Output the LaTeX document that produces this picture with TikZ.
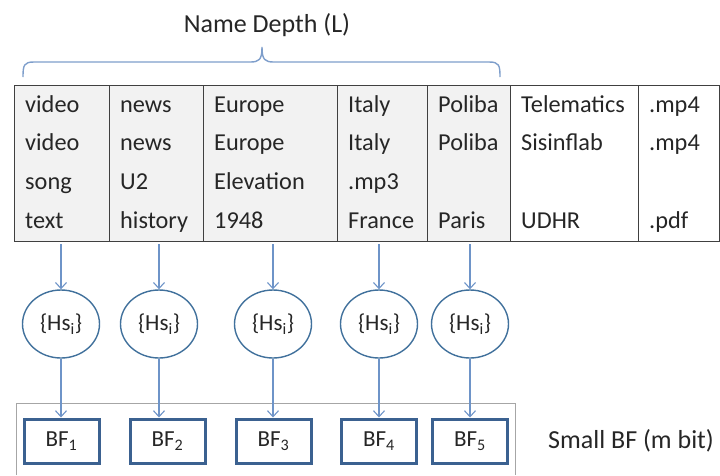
\documentclass[tikz,border=0pt]{standalone}
\usepackage{fontspec}
\setmainfont{Carlito}
\usetikzlibrary{arrows.meta,shapes.geometric}

\definecolor{cellfill}{HTML}{F2F2F2}
\definecolor{gridline}{HTML}{404040}
\definecolor{bracecol}{HTML}{7E9ECB}
\definecolor{arrowcol}{HTML}{6E94C8}
\definecolor{ellcol}{HTML}{41719C}
\definecolor{bfcol}{HTML}{3B6190}
\definecolor{framecol}{HTML}{A6A6A6}
\definecolor{txt}{HTML}{262626}

\tikzset{
  col/.style={draw=gridline, line width=1.3pt, anchor=north west,
              minimum height=156pt, inner sep=0pt},
  shaded/.style={fill=cellfill},
  cell/.style={anchor=base west, inner sep=0pt, text=txt,
               font=\fontsize{24.3}{28}\selectfont},
  hashnode/.style={ellipse, draw=ellcol, line width=1.4pt, fill=white,
                   minimum width=77pt, minimum height=68pt, inner sep=0pt,
                   text=txt, font=\fontsize{23}{28}\selectfont},
  bfbox/.style={rectangle, draw=bfcol, line width=3pt, fill=white,
                minimum width=75pt, minimum height=44pt, inner sep=0pt,
                text=txt, font=\fontsize{23}{28}\selectfont},
  arr/.style={draw=arrowcol, line width=1.1pt,
              -{Straight Barb[length=6pt,width=11pt,line width=1.1pt]}},
  label/.style={text=txt, inner sep=0pt, font=\fontsize{26}{30}\selectfont},
}

\begin{document}
\begin{tikzpicture}[x=1pt,y=-1pt]
\useasboundingbox (0,0) rectangle (720,475);

% title and brace over the name components
\node[label, anchor=base] (title) at (267,32) {Name Depth (L)};
\coordinate (bl) at (23,77);
\coordinate (br) at (500,77);
\coordinate (btip) at (262,47);
\draw[bracecol, line width=1.4pt]
  (bl) .. controls (23,65) and (24,62) .. (34,62) -- (250,62)
  .. controls (259,62) and (262,60) .. (btip)
  .. controls (262,60) and (265,62) .. (274,62) -- (489,62)
  .. controls (499,62) and (500,65) .. (br);

% table columns
\node[col, shaded, minimum width=95pt]  (c1) at (14,85)  {};
\node[col, shaded, minimum width=94pt]  (c2) at (109,85) {};
\node[col, shaded, minimum width=134pt] (c3) at (203,85) {};
\node[col, shaded, minimum width=90pt]  (c4) at (337,85) {};
\node[col, shaded, minimum width=83pt]  (c5) at (427,85) {};
\node[col, minimum width=128pt]         (c6) at (510,85) {};
\node[col, minimum width=81pt]          (c7) at (638,85) {};

% cell contents, column by column
\foreach \c/\a/\b/\cc/\d [count=\k] in {
  c1/video/video/song/text,
  c2/news/news/U2/history,
  c3/Europe/Europe/Elevation/1948,
  c4/Italy/Italy/.mp3/France,
  c5/Poliba/Poliba//Paris,
  c6/Telematics/Sisinflab//UDHR,
  c7/.mp4/.mp4//.pdf}{
  \node[cell] (r1\k) at ([xshift=11pt]\c.north west |- 0,112) {\a};
  \node[cell] (r2\k) at ([xshift=11pt]\c.north west |- 0,150) {\b};
  \node[cell] (r3\k) at ([xshift=11pt]\c.north west |- 0,189) {\cc};
  \node[cell] (r4\k) at ([xshift=11pt]\c.north west |- 0,228) {\d};
}

% hash sets
\node[hashnode] (h1) at (61,324)  {\{Hs\textsubscript{i}\}};
\node[hashnode] (h2) at (159,324) {\{Hs\textsubscript{i}\}};
\node[hashnode] (h3) at (273,324) {\{Hs\textsubscript{i}\}};
\node[hashnode] (h4) at (379,324) {\{Hs\textsubscript{i}\}};
\node[hashnode] (h5) at (470,324) {\{Hs\textsubscript{i}\}};

% frame around the small Bloom filters
\coordinate (fl) at (16,475);
\coordinate (fr) at (515,475);
\draw[framecol, line width=0.9pt] (fl) -- (16,403) -- (515,403) -- (fr);

% small Bloom filters
\node[bfbox] (b1) at (61.5,441) {BF\textsubscript{1}};
\node[bfbox] (b2) at (167.5,441) {BF\textsubscript{2}};
\node[bfbox] (b3) at (273.5,441) {BF\textsubscript{3}};
\node[bfbox] (b4) at (379,441) {BF\textsubscript{4}};
\node[bfbox] (b5) at (470,441) {BF\textsubscript{5}};

\node[label, anchor=base west] (small) at (548,448) {Small BF (m bit)};

% arrows: column -> hash set -> Bloom filter
\foreach \i/\c in {1/c1,2/c2,3/c3,4/c4,5/c5}{
  \draw[arr] ([yshift=-2pt]h\i |- \c.south) -- (h\i.north);
  \draw[arr] (h\i.south) -- (h\i |- b\i.north);
}
\end{tikzpicture}
\end{document}
